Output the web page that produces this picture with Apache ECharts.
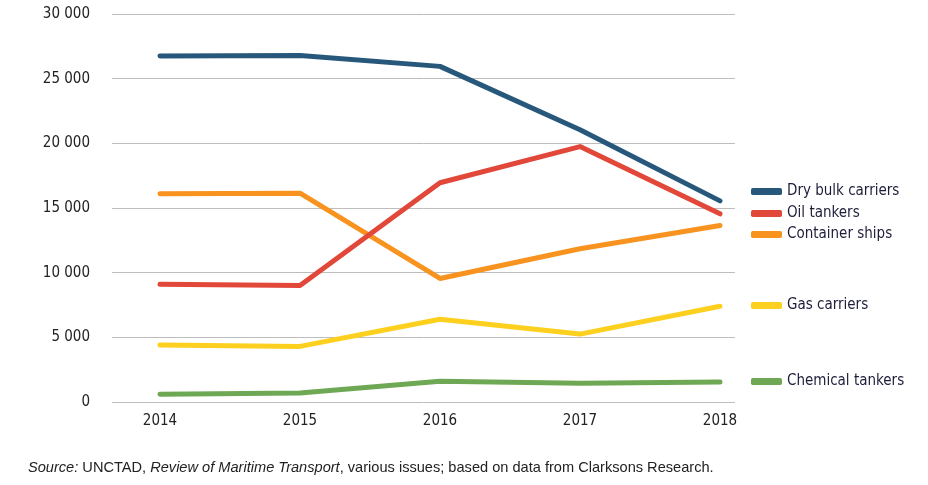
<!DOCTYPE html>
<html>
<head>
<meta charset="utf-8">
<script src="https://cdn.jsdelivr.net/npm/echarts@6/dist/echarts.min.js"></script>
<style>
  html, body { margin: 0; padding: 0; background: #fff; }
  #main { width: 928px; height: 485px; }
</style>
</head>
<body>
<div id="main"></div>
<script>
var years = [2014, 2015, 2016, 2017, 2018];
var yTicks = [0, 5000, 10000, 15000, 20000, 25000, 30000];

var dryBulk = [26750, 26800, 25950, 21050, 15550];
var oilTankers = [9100, 9000, 16950, 19750, 14550];
var containerShips = [16100, 16150, 9550, 11850, 13650];
var gasCarriers = [4400, 4300, 6400, 5250, 7400];
var chemicalTankers = [600, 700, 1600, 1450, 1550];

var seriesNames = ['Dry bulk carriers', 'Oil tankers', 'Container ships', 'Gas carriers', 'Chemical tankers'];
var seriesData = [dryBulk, oilTankers, containerShips, gasCarriers, chemicalTankers];
var colors = ['#27587c', '#e2483a', '#f7931e', '#fdd01f', '#6fa854'];
var legendTops = [179, 201, 222, 293, 369];

var font = '"DejaVu Sans Condensed", sans-serif';

function fmt(v) {
  return String(v).replace(/\B(?=(\d{3})+(?!\d))/g, ' ');
}

var chart = echarts.init(document.getElementById('main'));

chart.setOption({
  animation: false,
  color: colors,
  grid: { left: 112, right: 193, top: 14, bottom: 83 },
  xAxis: {
    type: 'value',
    min: 2014 - 48 / 140,
    max: 2018 + 15 / 140,
    splitLine: { show: false },
    axisLine: { show: false },
    axisTick: { show: false },
    axisLabel: {
      customValues: years,
      color: '#222',
      fontFamily: font,
      fontSize: 15,
      margin: 12,
      formatter: function (v) { return String(v); }
    }
  },
  yAxis: {
    type: 'value',
    min: 0,
    max: 30000,
    interval: 5000,
    axisLine: { show: false },
    axisTick: { show: false },
    splitLine: { lineStyle: { color: '#bdbdbd', width: 1 } },
    axisLabel: {
      color: '#222',
      fontFamily: font,
      fontSize: 15,
      margin: 22,
      formatter: function (v) { return yTicks.indexOf(v) >= 0 ? fmt(v) : ''; }
    }
  },
  legend: seriesNames.map(function (name, i) {
    return {
      data: [name],
      left: 746,
      top: legendTops[i],
      orient: 'vertical',
      icon: 'roundRect',
      itemWidth: 31,
      itemHeight: 7,
      itemGap: 0,
      selectedMode: false,
      textStyle: { color: '#1d1d3a', fontFamily: font, fontSize: 15 }
    };
  }),
  series: seriesNames.map(function (name, i) {
    return {
      name: name,
      type: 'line',
      data: years.map(function (y, j) { return [y, seriesData[i][j]]; }),
      symbol: 'none',
      lineStyle: { width: 5, cap: 'round', join: 'round' },
      z: 10 - i
    };
  }),
  graphic: [{
    type: 'text',
    left: 28,
    top: 460,
    style: {
      text: '{i|Source:} UNCTAD, {i|Review of Maritime Transport}, various issues; based on data from Clarksons Research.',
      fontFamily: '"Liberation Sans", Arial, sans-serif',
      fontSize: 14.6,
      fill: '#222',
      rich: {
        i: { fontStyle: 'italic', fontFamily: '"Liberation Sans", Arial, sans-serif', fontSize: 14.6, fill: '#222' }
      }
    }
  }]
});
</script>
</body>
</html>
